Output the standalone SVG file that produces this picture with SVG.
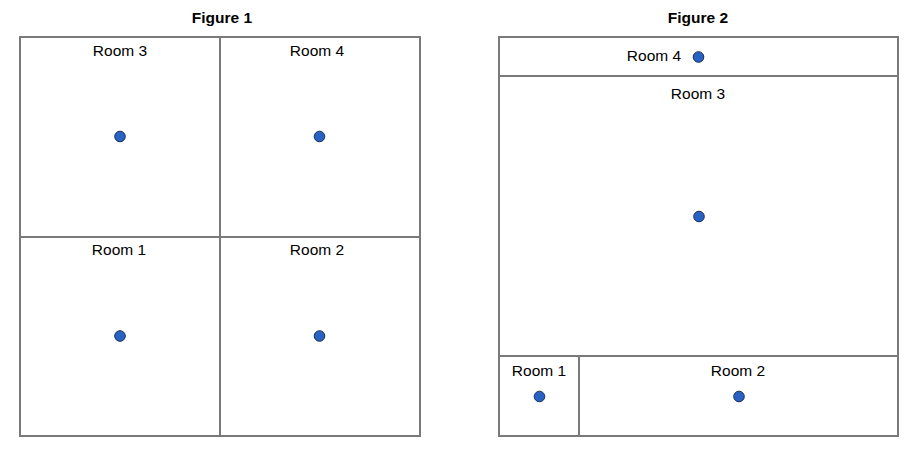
<svg xmlns="http://www.w3.org/2000/svg" width="918" height="453" viewBox="0 0 918 453">
<style>
.wall{fill:none;stroke:#7a7a7a;stroke-width:2}
.lbl{font-family:"Liberation Sans",Arial,sans-serif;font-size:15.5px;fill:#000;text-anchor:middle}
.title{font-family:"Liberation Sans",Arial,sans-serif;font-size:15.5px;font-weight:bold;fill:#000;text-anchor:middle}
.dot{fill:#2862c4;stroke:#1c2f55;stroke-width:1}
</style>
<rect width="918" height="453" fill="#fff"/>
<text class="title" x="222" y="23">Figure 1</text>
<text class="title" x="698" y="23">Figure 2</text>
<g id="fig1">
<g id="f1-room3"><rect class="wall" x="20" y="37" width="200" height="200"/><text class="lbl" x="120" y="56">Room 3</text><circle class="dot" cx="120" cy="136.5" r="5.3"/></g>
<g id="f1-room4"><rect class="wall" x="220" y="37" width="200" height="200"/><text class="lbl" x="317" y="56">Room 4</text><circle class="dot" cx="319.5" cy="136.5" r="5.3"/></g>
<g id="f1-room1"><rect class="wall" x="20" y="237" width="200" height="199"/><text class="lbl" x="119" y="255">Room 1</text><circle class="dot" cx="120" cy="336" r="5.3"/></g>
<g id="f1-room2"><rect class="wall" x="220" y="237" width="200" height="199"/><text class="lbl" x="317" y="255">Room 2</text><circle class="dot" cx="319.5" cy="336" r="5.3"/></g>
</g>
<g id="fig2">
<g id="f2-room4"><rect class="wall" x="499" y="37" width="399" height="39"/><text class="lbl" x="654" y="61">Room 4</text><circle class="dot" cx="698.5" cy="57" r="5.3"/></g>
<g id="f2-room3"><rect class="wall" x="499" y="76" width="399" height="280"/><text class="lbl" x="698" y="98.5">Room 3</text><circle class="dot" cx="699" cy="216.5" r="5.3"/></g>
<g id="f2-room1"><rect class="wall" x="499" y="356" width="80" height="80"/><text class="lbl" x="539" y="376">Room 1</text><circle class="dot" cx="539.5" cy="396.5" r="5.3"/></g>
<g id="f2-room2"><rect class="wall" x="579" y="356" width="319" height="80"/><text class="lbl" x="738" y="376">Room 2</text><circle class="dot" cx="739" cy="396.5" r="5.3"/></g>
</g>
<g id="connectors"></g>
</svg>
